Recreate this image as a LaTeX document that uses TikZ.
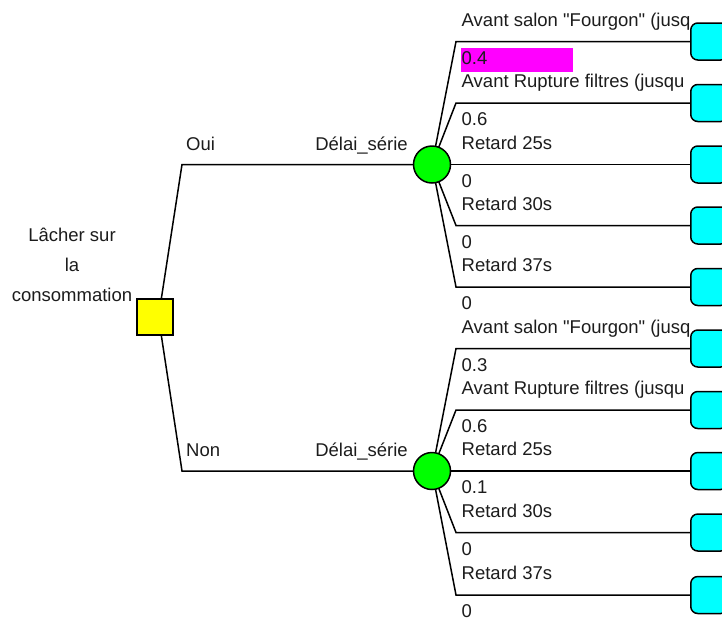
\documentclass[tikz,border=0pt]{standalone}
\usepackage{fontspec}
\setmainfont{Liberation Sans}
\usetikzlibrary{backgrounds}
\definecolor{txt}{HTML}{1C1C1C}
\definecolor{termfill}{HTML}{00FFFF}
\definecolor{chancefill}{HTML}{00FF00}
\definecolor{decfill}{HTML}{FFFF00}
\definecolor{hlfill}{HTML}{FF00FF}
\begin{document}
\begin{tikzpicture}[x=1pt,y=-1pt,
  edge/.style={line width=1.5pt, draw=black},
  lbl/.style={font=\fontsize{18.5}{22}\selectfont, text=txt, inner sep=0pt, anchor=base west},
  term/.style={draw=black, line width=1.5pt, fill=termfill, rounded corners=7pt, minimum width=37pt, minimum height=37pt, inner sep=0pt},
  chance/.style={circle, draw=black, line width=1.5pt, fill=chancefill, minimum size=37pt, inner sep=0pt},
  decision/.style={rectangle, draw=black, line width=1.5pt, fill=decfill, minimum size=36pt, inner sep=0pt}]
\useasboundingbox (0,0) rectangle (722,619);

% decision node and its label
\node[decision] (root) at (155,317) {};
\node[lbl, anchor=base] (rl1) at (72,241.5) {Lâcher sur};
\node[lbl, anchor=base] (rl2) at (72,271.5) {la};
\node[lbl, anchor=base] (rl3) at (72,301.5) {consommation};

% chance nodes
\coordinate (ra) at (182,164.5);
\coordinate (rb) at (182,471);
\node[chance] (c1) at (432,164.5) {};
\node[chance] (c2) at (432,471) {};
\node[lbl] (oui) at (186,150) {Oui};
\node[lbl] (non) at (186,456) {Non};
\node[lbl, anchor=base east] (d1) at (408,150) {Délai\_série};
\node[lbl, anchor=base east] (d2) at (408,456) {Délai\_série};

% magenta highlight
\node[fill=hlfill, minimum width=112pt, minimum height=24pt, inner sep=0pt, anchor=north west] (hl) at (461,47.5) {};

% terminal nodes and branches
\foreach \i/\y/\c in {1/41.5/1, 2/103/1, 3/164.5/1, 4/225.5/1, 5/287/1,
                      6/348.5/2, 7/410/2, 8/471/2, 9/532.5/2, 10/595/2}{
  \coordinate (k\i) at (456,\y);
  \node[term, anchor=west] (t\i) at (690,\y) {};
  \begin{scope}[on background layer]
    \draw[edge] (c\c.center) -- (k\i) -- (t\i.west);
  \end{scope}
}

\begin{scope}[on background layer]
  \draw[edge] ([xshift=3.5pt]root.center) -- (ra) -- (c1.center);
  \draw[edge] ([xshift=3.5pt]root.center) -- (rb) -- (c2.center);
\end{scope}

% branch labels
\begin{scope}
  \clip (0,0) rectangle (689,619);
  \foreach \y/\name/\prob [count=\j] in {
      41.5/{Avant salon \textquotedbl Fourgon\textquotedbl{} (jusqu}/0.4,
      103/{Avant Rupture filtres (jusqu}/0.6,
      164.5/{Retard 25s}/0,
      225.5/{Retard 30s}/0,
      287/{Retard 37s}/0,
      348.5/{Avant salon \textquotedbl Fourgon\textquotedbl{} (jusqu}/0.3,
      410/{Avant Rupture filtres (jusqu}/0.6,
      471/{Retard 25s}/0.1,
      532.5/{Retard 30s}/0,
      595/{Retard 37s}/0}{
    \node[lbl] (n\j) at (461.5,\y-15.5) {\name};
    \node[lbl] (p\j) at (461.5,\y+22.5) {\prob};
  }
\end{scope}
\end{tikzpicture}
\end{document}
